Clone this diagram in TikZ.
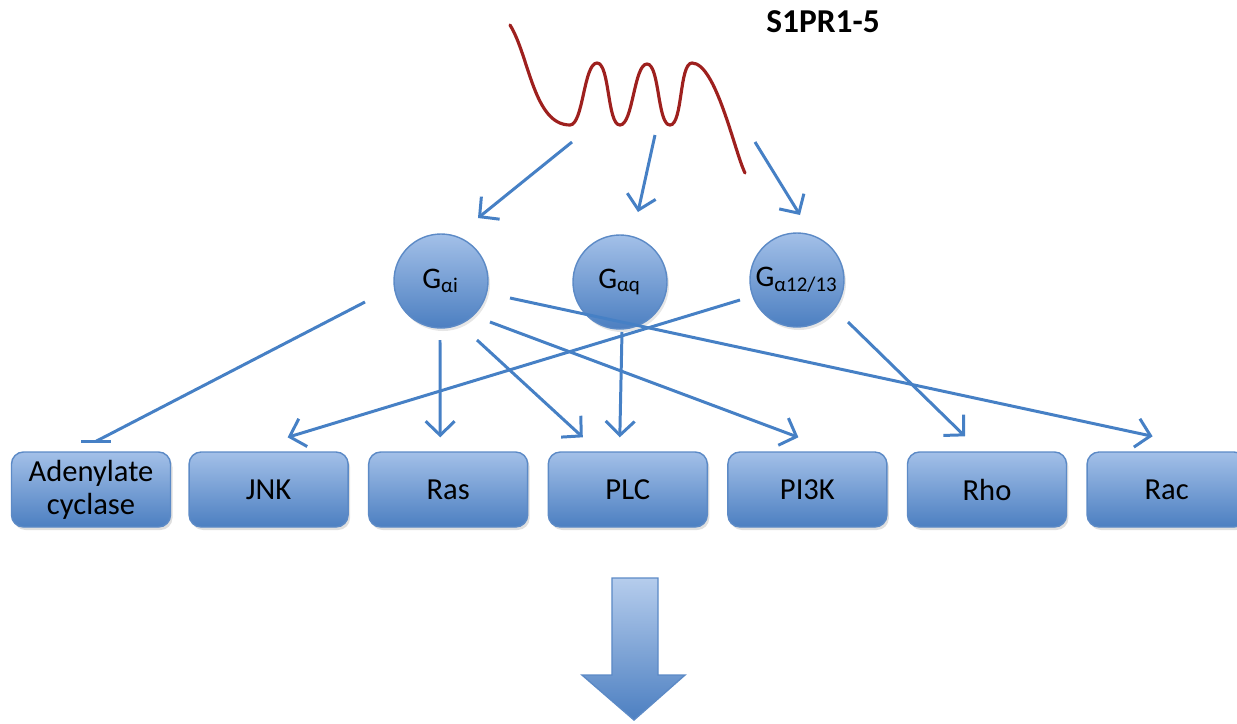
\documentclass[tikz,border=0pt]{standalone}
\usepackage{fontspec}
\setmainfont{Carlito}
\usetikzlibrary{arrows.meta,positioning,calc,shadows}
\definecolor{boxtop}{RGB}{163,192,232}
\definecolor{boxbot}{RGB}{76,127,193}
\definecolor{boxedge}{RGB}{92,138,198}
\definecolor{linkblue}{RGB}{70,128,197}
\definecolor{receptor}{RGB}{158,32,30}

\tikzset{
  target/.style={draw=boxedge, line width=0.4pt, top color=boxtop, bottom color=boxbot,
    rounded corners=0.12cm, minimum width=1.59cm, minimum height=0.75cm, inner sep=0pt,
    align=center, font=\fontsize{8.7}{9.3}\selectfont,
    drop shadow={opacity=0.25, shadow xshift=0.02cm, shadow yshift=-0.03cm}},
  gprot/.style={circle, draw=boxedge, line width=0.4pt, top color=boxtop, bottom color=boxbot,
    minimum size=0.94cm, inner sep=0pt, font=\fontsize{8.5}{10}\selectfont,
    drop shadow={opacity=0.2, shadow xshift=0.02cm, shadow yshift=-0.03cm}},
  link/.style={linkblue, line width=0.85pt, -{Straight Barb[length=1.4mm, width=2.9mm]}},
  inhib/.style={linkblue, line width=0.85pt},
}

\begin{document}
\begin{tikzpicture}
        \useasboundingbox (0,0) rectangle (12.37,-7.24);
        \node[font=\bfseries\fontsize{9.5}{11}\selectfont, anchor=base] (s1pr) at (8.23,-0.32) {S1PR1-5};
        \draw[receptor, line width=0.9pt, line cap=round] (5.10,-0.25) to[out=-58, in=180, looseness=0.8] (5.70,-1.25)
            to[out=0, in=180, looseness=0.5] (5.97,-0.63) to[out=0, in=180, looseness=0.5] (6.20,-1.25)
            to[out=0, in=180, looseness=0.5] (6.47,-0.64) to[out=0, in=180, looseness=0.5] (6.70,-1.25)
            to[out=0, in=180, looseness=0.5] (6.92,-0.63) to[out=0, in=116, looseness=0.5] (7.45,-1.73);
        \coordinate (r1) at (5.72,-1.42);
        \coordinate (r2) at (6.55,-1.35);
        \coordinate (r3) at (7.55,-1.42);

        \node[gprot] (gi) at (4.41,-2.81) {G\textsubscript{αi}};
        \node[gprot] (gq) at (6.20,-2.82) {G\textsubscript{αq}};
        \node[gprot] (g12) at (7.97,-2.80) {G\textsubscript{α12/13}};

        \node[target] (ac) at (0.91,-4.895) {Adenylate\\cyclase};
        \node[target] (jnk) at (2.686,-4.895) {JNK};
        \node[target] (ras) at (4.482,-4.895) {Ras};
        \node[target] (plc) at (6.278,-4.895) {PLC};
        \node[target] (pi3k) at (8.074,-4.895) {PI3K};
        \node[target] (rho) at (9.87,-4.895) {Rho};
        \node[target] (rac) at (11.666,-4.895) {Rac};

        \draw[link] (r1) -- ($(gi)+(0.37,0.63)$);
        \draw[link] (r2) -- ($(gq)+(0.18,0.70)$);
        \draw[link] (r3) -- ($(g12)+(0.03,0.65)$);

        \coordinate (acbar) at ($(ac.north)+(0.05,0.10)$);
        \draw[inhib] ($(gi)+(-0.76,-0.21)$) -- (acbar);
        \draw[inhib] ($(acbar)+(-0.15,0)$) -- ($(acbar)+(0.15,0)$);
        \draw[link] ($(gi)+(-0.01,-0.59)$) -- ($(ras.north)+(-0.08,0.14)$);
        \draw[link] ($(gi)+(0.36,-0.59)$) -- ($(plc.north)+(-0.45,0.14)$);
        \draw[link] ($(gi)+(0.49,-0.41)$) -- ($(pi3k.north)+(-0.09,0.14)$);
        \draw[link] ($(gi)+(0.69,-0.17)$) -- ($(rac.north)+(-0.14,0.15)$);
        \draw[link] ($(gq)+(0.02,-0.50)$) -- ($(plc.north)+(-0.08,0.14)$);
        \draw[link] ($(g12)+(-0.57,-0.20)$) -- ($(jnk.north)+(0.19,0.14)$);
        \draw[link] ($(g12)+(0.51,-0.42)$) -- ($(rho.north)+(-0.22,0.15)$);

        \shade[draw=boxedge, line width=0.4pt, top color=boxtop!80!white, bottom color=boxbot]
            (6.12,-5.78) -- (6.58,-5.78) -- (6.58,-6.75) -- (6.85,-6.75) -- (6.34,-7.20)
            -- (5.82,-6.75) -- (6.12,-6.75) -- cycle;
    \end{tikzpicture}
\end{document}
